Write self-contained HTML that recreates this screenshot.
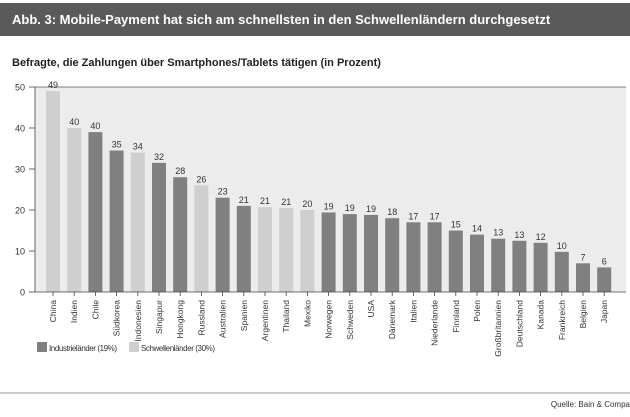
<!DOCTYPE html>
<html><head><meta charset="utf-8"><style>
body{margin:0;background:#fff;font-family:"Liberation Sans",sans-serif;}
</style></head><body>
<svg width="630" height="412" xmlns="http://www.w3.org/2000/svg">
<rect x="0" y="3" width="630" height="33" fill="#5a5a5a"/>
<text x="12" y="24" fill="#fff" font-size="13" font-weight="bold">Abb. 3: Mobile-Payment hat sich am schnellsten in den Schwellenländern durchgesetzt</text>
<text x="12" y="66" fill="#222" font-size="11" font-weight="bold">Befragte, die Zahlungen über Smartphones/Tablets tätigen (in Prozent)</text>
<rect x="35" y="87" width="591" height="205" fill="#ececec"/>
<line x1="35" y1="87" x2="626" y2="87" stroke="#555" stroke-width="0.8"/>
<g id="ticks"></g><g id="bars"></g>
<line x1="35" y1="87" x2="35" y2="292" stroke="#444" stroke-width="0.8"/>
<line x1="35" y1="292" x2="626" y2="292" stroke="#444" stroke-width="0.8"/>
<rect x="37" y="342" width="10" height="10" fill="#808080"/>
<text x="49" y="351" font-size="8" fill="#333" textLength="68">Industrieländer (19%)</text>
<rect x="129" y="342" width="10" height="10" fill="#cfcfcf"/>
<text x="141" y="351" font-size="8" fill="#333" textLength="74">Schwellenländer (30%)</text>
<line x1="0" y1="393" x2="630" y2="393" stroke="#999" stroke-width="1"/>
<text x="630" y="407" font-size="8" fill="#333" text-anchor="end">Quelle: Bain &amp; Compa</text>
</svg>
<script>
const categories=["China","Indien","Chile","Südkorea","Indonesien","Singapur","Hongkong","Russland","Australien","Spanien","Argentinen","Thailand","Mexiko","Norwegen","Schweden","USA","Dänemark","Italien","Niederlande","Finnland","Polen","Großbritannien","Deutschland","Kanada","Frankreich","Belgien","Japan"];
const values=[49,40,39,34.5,34,31.5,28,26,23,21,20.7,20.5,20,19.4,19,18.8,18,17,17,15,14,13,12.5,12,9.8,7,6];
const valueLabels=["49","40","40","35","34","32","28","26","23","21","21","21","20","19","19","19","18","17","17","15","14","13","13","12","10","7","6"];
const emerging=[1,1,0,0,1,0,0,1,0,0,1,1,1,0,0,0,0,0,0,0,0,0,0,0,0,0,0];
const yTicks=[0,10,20,30,40,50];
const NS="http://www.w3.org/2000/svg";
const y=v=>292-v*4.1, x=i=>53+i*21.2;
const tg=document.getElementById('ticks'), bg=document.getElementById('bars');
function mk(t,a,p){const e=document.createElementNS(NS,t);for(const k in a)e.setAttribute(k,a[k]);p.appendChild(e);return e;}
yTicks.forEach(t=>{
 const l=mk('line',{x1:29,x2:35,y1:y(t),y2:y(t),stroke:'#444','stroke-width':0.8},tg);
 
 
 const tx=mk('text',{x:25,y:y(t)+3.5,'font-size':9,fill:'#333','text-anchor':'end'},tg);tx.textContent=t;
 
 
});
categories.forEach((c,i)=>{
 const cx=x(i);
 const r=mk('rect',{x:cx-7,y:y(values[i]),width:14,height:values[i]*4.1,fill:emerging[i]?'#cfcfcf':'#808080'},bg);
 
 
 const v=mk('text',{x:cx,y:y(values[i])-3,'font-size':9,fill:'#333','text-anchor':'middle'},bg);v.textContent=valueLabels[i];
 
 
 mk('line',{x1:cx,x2:cx,y1:292,y2:296,stroke:'#444','stroke-width':0.8},bg);
 const lb=mk('text',{x:0,y:0,'font-size':8.5,fill:'#333','text-anchor':'end',transform:`translate(${cx+3},300) rotate(-90)`},bg);lb.textContent=c;
 
 
});
</script>
</body></html>
